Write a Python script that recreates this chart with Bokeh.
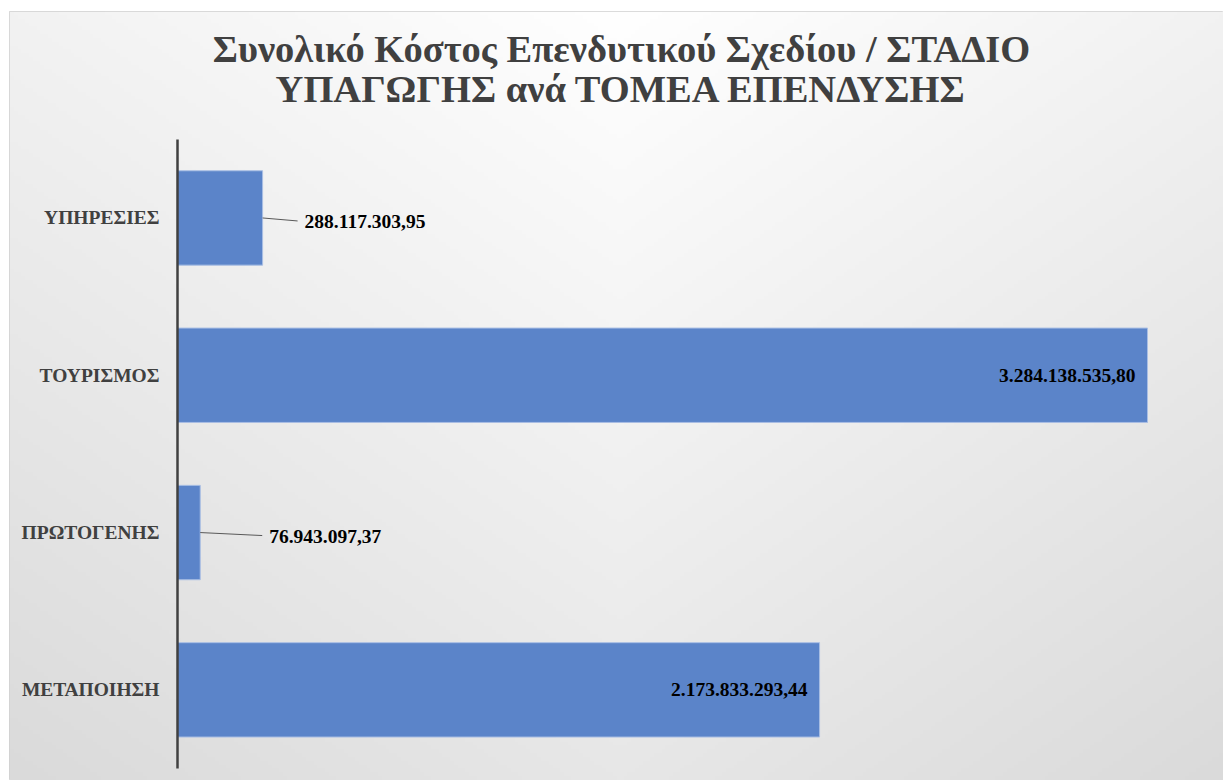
import numpy as np
from bokeh.plotting import figure
from bokeh.models import Range1d, LinearAxis, FixedTicker, ColumnDataSource, Label
from bokeh.core.properties import value
from bokeh.embed import file_html
from bokeh.resources import INLINE

# ---------------- data ----------------
categories = ["ΜΕΤΑΠΟΙΗΣΗ", "ΠΡΩΤΟΓΕΝΗΣ", "ΤΟΥΡΙΣΜΟΣ", "ΥΠΗΡΕΣΙΕΣ"]
values = [2173833293.44, 76943097.37, 3284138535.80, 288117303.95]
title_lines = ["Συνολικό Κόστος Επενδυτικού Σχεδίου / ΣΤΑΔΙΟ",
               "ΥΠΑΓΩΓΗΣ ανά ΤΟΜΕΑ ΕΠΕΝΔΥΣΗΣ"]

# ---------------- layout / style ----------------
W, H = 1223, 780
FRAME_W, FRAME_H = 1214, 769
X_START, X_END = -5.688e8, 3.5414e9
Y_START, Y_END = -0.0763, 4.8125
ux = (X_END - X_START) / FRAME_W   # data units per pixel (x)
uy = (Y_END - Y_START) / FRAME_H   # data units per pixel (y)
leader_px = [0, 62, 0, 35]          # leader length for outside labels
BAR_COLOR = "#5b84c9"
FONT = "Liberation Serif"


def fmt(v):
    s = f"{v:,.2f}"
    return s.replace(",", "X").replace(".", ",").replace("X", ".")


pos = [i + 0.5 for i in range(len(categories))]

p = figure(width=W, height=H,
           x_range=Range1d(X_START, X_END), y_range=Range1d(Y_START, Y_END),
           x_axis_location=None, y_axis_location=None,
           toolbar_location=None, output_backend="svg",
           min_border_left=9, min_border_top=11, min_border_right=0, min_border_bottom=0,
           outline_line_color="#d0d0d0", outline_line_width=1,
           border_fill_color="white", background_fill_color="#ececec")
for g in p.grid:
    g.visible = False

# background gradient (style only)
GH, GW = 200, 320
jj, ii = np.meshgrid(np.arange(GW), np.arange(GH))
px = 10 + (jj + 0.5) / GW * FRAME_W
py = 12 + (ii + 0.5) / GH * FRAME_H          # top to bottom
nx = np.clip(np.abs(px - 620) / 610, 0, 1)
ny = (py - 12) / FRAME_H
shade = np.clip(255 - 24 * ny - 13 * nx, 0, 255).astype(np.uint8)
shade = np.flipud(shade)
img = np.empty((GH, GW), dtype=np.uint32)
view = img.view(dtype=np.uint8).reshape((GH, GW, 4))
view[..., 0] = shade
view[..., 1] = shade
view[..., 2] = shade
view[..., 3] = 255
p.image_rgba(image=[img], x=X_START, y=Y_START, dw=X_END - X_START, dh=Y_END - Y_START)

# bars
src = ColumnDataSource(dict(y=pos, v=values, cat=categories))
p.hbar(y="y", left=0, right="v", height=0.6, source=src,
       fill_color=BAR_COLOR, line_color="#a9bee4", line_width=1)

# data labels
vmax = max(values)
in_x, in_y, in_t = [], [], []
out_x, out_y, out_t = [], [], []
lx0, ly0, lx1, ly1 = [], [], [], []
for v, yv, lp in zip(values, pos, leader_px):
    if v > 0.3 * vmax:
        in_x.append(v - 12 * ux)
        in_y.append(yv)
        in_t.append(fmt(v))
    else:
        lx0.append(v)
        ly0.append(yv)
        lx1.append(v + lp * ux)
        ly1.append(yv - 3 * uy)
        out_x.append(v + (lp + 7) * ux)
        out_y.append(yv - 4 * uy)
        out_t.append(fmt(v))

p.segment(x0=lx0, y0=ly0, x1=lx1, y1=ly1, line_color="#595959", line_width=1)
p.text(x=in_x, y=in_y, text=in_t, text_align="right", text_baseline="middle",
       text_font=value(FONT), text_font_style="bold", text_font_size="19.5px",
       text_color="black")
p.text(x=out_x, y=out_y, text=out_t, text_align="left", text_baseline="middle",
       text_font=value(FONT), text_font_style="bold", text_font_size="19.5px",
       text_color="black")

# category axis
yaxis = LinearAxis(ticker=FixedTicker(ticks=pos),
                   major_label_overrides={pp: c for pp, c in zip(pos, categories)},
                   fixed_location=0, bounds=(0, len(categories)),
                   axis_line_color="#404040", axis_line_width=2.5,
                   major_tick_line_color=None, minor_tick_line_color=None,
                   major_label_text_font=FONT, major_label_text_font_style="bold",
                   major_label_text_font_size="19.5px", major_label_text_color="#404040",
                   major_label_standoff=12)
p.add_layout(yaxis, "left")

# title
title_x = (622 - 178) * ux
for line, ypx in zip(title_lines, [50, 90]):
    p.add_layout(Label(x=title_x, y=(769 - ypx) * uy, text=line,
                       text_align="center", text_baseline="alphabetic",
                       text_font=FONT, text_font_style="bold",
                       text_font_size="38.5px", text_color="#404040"))

open("out.html", "w").write(file_html(p, INLINE))
